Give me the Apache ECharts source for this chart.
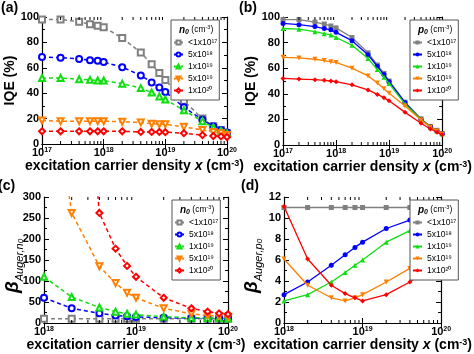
<!DOCTYPE html>
<html>
<head>
<meta charset="utf-8">
<script src="https://cdn.jsdelivr.net/npm/echarts@6/dist/echarts.min.js"></script>
<style>
  body { margin: 0; background: #fff; }
  #chart { width: 474px; height: 354px; }
</style>
</head>
<body>
<div id="chart"></div>
<script>
// excitation carrier density x (cm^-3)
const xTop = [1e17, 2e17, 4e17, 6e17, 8e17, 1e18, 2e18, 4e18, 6e18, 8e18, 1e19, 2e19, 4e19, 6e19, 8e19, 1e20];
const xBottom = [1e18, 2e18, 4e18, 6e18, 8e18, 1e19, 2e19, 4e19, 6e19, 8e19, 1e20];

const dopings = ['<1x10¹⁷', '5x10¹⁸', '1x10¹⁹', '5x10¹⁹', '1x10²⁰'];
const colors = ['#808080', '#0000ff', '#11dd11', '#ff8000', '#ff0000'];
const symbols = ['rect', 'circle', 'triangle', 'triangle', 'diamond'];
const rotations = [0, 0, 0, 180, 0];
const minorSteps = [2, 3, 4, 5, 6, 7, 8, 9];

// (a) IQE (%) for n-type doping n0
const iqeN_gray   = [98, 98, 96.3, 94.2, 93.2, 92, 83.5, 72, 62.8, 56, 50.3, 34, 20, 14, 11, 8.4];
const iqeN_blue   = [68.5, 68, 67, 66, 65.5, 64.5, 60.5, 54, 48.5, 44.5, 41, 29, 19, 14, 11, 9];
const iqeN_green  = [52, 52, 51, 50.5, 50, 50, 47.5, 44, 40.5, 37.5, 35, 26.5, 18, 13, 10.5, 8.5];
const iqeN_orange = [18.5, 18, 18, 18, 18, 18, 17.5, 17, 16, 15.5, 15.5, 13.5, 11, 9.5, 8.5, 7];
const iqeN_red    = [10, 10, 10, 10, 10, 10, 10, 9.5, 9.5, 9.5, 9.3, 8.5, 7, 6.3, 6, 5.5];

// (b) IQE (%) for p-type doping p0
const iqeP_gray   = [98, 98, 96, 94.5, 93, 91.5, 84, 72, 62.5, 56, 50, 33.5, 20.5, 14.5, 11.5, 9];
const iqeP_blue   = [95, 94, 92.5, 91, 90, 88, 81.5, 70.5, 61.5, 55, 49.5, 33, 20, 14.5, 11, 9];
const iqeP_green  = [91, 90.5, 88.5, 87, 86, 84, 78, 67.5, 59, 53, 48, 32, 20, 14, 11, 8.5];
const iqeP_orange = [68.5, 68, 67, 66, 65, 64.5, 60, 54, 48.5, 44, 40.5, 30.5, 19.5, 14, 11, 8.5];
const iqeP_red    = [52, 51.5, 51, 50.5, 50, 49.5, 47, 43, 39.5, 37, 34.5, 25.5, 17, 12.5, 10, 8];

// (c) beta Auger, n0
const betaN_gray   = [10, 10, 10, 10, 10, 10, 10, 10, 10, 10, 10];
const betaN_blue   = [60, 35, 23, 18, 16, 14.5, 12.5, 11.5, 11, 11, 11];
const betaN_green  = [110, 62, 37, 27, 22, 20, 15, 12.5, 12, 11.5, 11];
const betaN_orange = [700, 262, 135, 95, 72, 60, 35, 22, 18, 16, 15];
const betaN_red    = [2000, 1000, 262, 177, 136, 110, 60, 35, 27, 23, 21];

// (d) beta Auger, p0
const betaP_gray   = [11, 11, 11, 11, 11, 11, 11, 11, 11, 11, 11];
const betaP_blue   = [2.7, 3.9, 5.5, 6.5, 7.2, 7.7, 9.0, 9.8, 10.2, 10.4, 10.6];
const betaP_green  = [2.1, 2.7, 3.9, 4.8, 5.5, 6.0, 7.7, 8.8, 9.4, 9.8, 10.1];
const betaP_orange = [6.1, 3.6, 2.4, 2.1, 2.4, 2.7, 3.9, 5.2, 6.2, 7.0, 7.7];
const betaP_red    = [11.1, 6.1, 3.6, 2.8, 2.4, 2.1, 2.7, 3.9, 4.8, 5.4, 6.0];

const FONT = '"Liberation Sans", Arial, sans-serif';

// legend: [left x, top y]
const panels = [
  { key: 'a', grid: { left: 42, top: 17, width: 185, height: 127 }, xs: xTop, xMin: 1e17, xMax: 1e20,
    yMax: 100, yInt: 20, dashed: true, ys: [iqeN_gray, iqeN_blue, iqeN_green, iqeN_orange, iqeN_red],
    yName: 'IQE (%)', carrier: 'n', legend: [171, 20], label: [1, 1], beta: null },
  { key: 'b', grid: { left: 283, top: 17, width: 182, height: 128 }, xs: xTop, xMin: 1e17, xMax: 1e20,
    yMax: 100, yInt: 20, dashed: false, ys: [iqeP_gray, iqeP_blue, iqeP_green, iqeP_orange, iqeP_red],
    yName: 'IQE (%)', carrier: 'p', legend: [410, 20], label: [239, 1], beta: null },
  { key: 'c', grid: { left: 44, top: 197, width: 184, height: 126 }, xs: xBottom, xMin: 1e18, xMax: 1e20,
    yMax: 300, yInt: 50, dashed: true, ys: [betaN_gray, betaN_blue, betaN_green, betaN_orange, betaN_red],
    yName: '', carrier: 'n', legend: [172, 200], label: [-2, 179], beta: [14, 266] },
  { key: 'd', grid: { left: 284, top: 197, width: 181, height: 126 }, xs: xBottom, xMin: 1e18, xMax: 1e20,
    yMax: 12, yInt: 2, dashed: false, ys: [betaP_gray, betaP_blue, betaP_green, betaP_orange, betaP_red],
    yName: '', carrier: 'p', legend: [410, 200], label: [241, 179], beta: [253, 266] }
];

const supRich = {
  sup: { fontSize: 7, fontWeight: 'bold', fontFamily: FONT, color: '#000', verticalAlign: 'top', lineHeight: 8 }
};

function logLabel(v) {
  return '10{sup|' + Math.round(Math.log(v) / Math.LN10) + '}';
}

const grids = [], xAxes = [], yAxes = [], series = [], legends = [], graphics = [];

panels.forEach((p, i) => {
  grids.push(p.grid);
  const tick = { inside: true, length: 5, lineStyle: { color: '#000', width: 1 } };
  const line = { show: true, lineStyle: { color: '#000', width: 1.2 } };
  const xName = 'excitation carrier density {i|x} (cm{sup|-3})';
  xAxes.push({
    gridIndex: i, type: 'log', logBase: 10, min: p.xMin, max: p.xMax, position: 'bottom',
    axisLine: line, axisTick: tick, splitLine: { show: false },
    axisLabel: { formatter: logLabel, color: '#000', fontSize: 11, fontWeight: 'bold', fontFamily: FONT, margin: 3,
      rich: supRich },
    name: xName, nameLocation: 'middle', nameGap: 14,
    nameTextStyle: { color: '#000', fontSize: 14, fontWeight: 'bold', fontFamily: FONT,
      rich: {
        i: { fontSize: 14, fontWeight: 'bold', fontStyle: 'italic', fontFamily: FONT, color: '#000' },
        sup: { fontSize: 9, fontWeight: 'bold', fontFamily: FONT, color: '#000', verticalAlign: 'top', lineHeight: 10 }
      } }
  });
  xAxes.push({
    gridIndex: i, type: 'log', logBase: 10, min: p.xMin, max: p.xMax, position: 'top',
    axisLine: line, axisTick: tick, axisLabel: { show: false }, splitLine: { show: false }
  });

  yAxes.push({
    gridIndex: i, type: 'value', min: 0, max: p.yMax, interval: p.yInt, position: 'left',
    axisLine: line, axisTick: tick, splitLine: { show: false },
    minorTick: { show: true, splitNumber: 2, length: 3, lineStyle: { color: '#000' } },
    axisLabel: { color: '#000', fontSize: 11, fontWeight: 'bold', fontFamily: FONT, margin: 3 },
    name: p.yName, nameLocation: 'middle', nameGap: 22,
    nameTextStyle: { color: '#000', fontSize: 14, fontWeight: 'bold', fontFamily: FONT }
  });
  yAxes.push({
    gridIndex: i, type: 'value', min: 0, max: p.yMax, interval: p.yInt, position: 'right',
    axisLine: line, axisTick: tick, splitLine: { show: false },
    minorTick: { show: true, splitNumber: 2, length: 3, lineStyle: { color: '#000' } },
    axisLabel: { show: false }
  });

  const names = [];
  p.ys.forEach((vals, k) => {
    const name = p.key + ':' + dopings[k];
    names.push(name);
    series.push({
      name: name, type: 'line', xAxisIndex: 2 * i, yAxisIndex: 2 * i,
      data: p.xs.map((x, j) => [x, vals[j]]),
      symbol: p.dashed ? 'empty' + symbols[k][0].toUpperCase() + symbols[k].slice(1) : symbols[k],
      symbolSize: p.dashed ? 6 : 5, symbolRotate: rotations[k],
      lineStyle: { color: colors[k], width: p.dashed ? 1.5 : 1.3, type: p.dashed ? [4, 3] : 'solid' },
      itemStyle: { color: colors[k], borderColor: colors[k], borderWidth: p.dashed ? 1.2 : 0 },
      clip: true, z: 3 + k
    });
  });

  // minor ticks for the log x axis (2..9 within each decade)
  const minor = [];
  for (let e = Math.round(Math.log10(p.xMin)); e < Math.round(Math.log10(p.xMax)); e++) {
    minorSteps.forEach(m => minor.push([m * Math.pow(10, e), 0]));
  }
  series.push({
    type: 'custom', xAxisIndex: 2 * i, yAxisIndex: 2 * i, silent: true, clip: false, z: 10,
    data: minor,
    renderItem: (params, api) => {
      const x = api.coord([api.value(0), 0])[0];
      const cs = params.coordSys;
      const s = { stroke: '#000', lineWidth: 1 };
      return { type: 'group', children: [
        { type: 'line', shape: { x1: x, y1: cs.y + cs.height, x2: x, y2: cs.y + cs.height - 3 }, style: s },
        { type: 'line', shape: { x1: x, y1: cs.y, x2: x, y2: cs.y + 3 }, style: s }
      ] };
    }
  });

  legends.push({
    data: names, orient: 'vertical', left: p.legend[0], top: p.legend[1], align: 'left',
    padding: [18, 2, 5, 2], itemGap: 3, itemWidth: 9, itemHeight: 5, itemTextGap: 2,
    borderColor: '#555', borderWidth: 1, backgroundColor: '#fff', symbolRotate: 'inherit',
    selectedMode: false, z: 20,
    textStyle: { fontSize: 8.5, fontFamily: FONT, color: '#000', lineHeight: 9 },
    formatter: n => n.split(':')[1]
  });

  graphics.push({
    type: 'text', left: p.legend[0] + 8, top: p.legend[1] + 4, z: 30,
    style: {
      text: '{c|' + p.carrier + '}{o|0}{t| (cm}{u|-3}{t|)}',
      rich: {
        c: { fontSize: 10, fontWeight: 'bold', fontStyle: 'italic', fontFamily: FONT, fill: '#000' },
        o: { fontSize: 7, fontWeight: 'bold', fontStyle: 'italic', fontFamily: FONT, fill: '#000', verticalAlign: 'bottom', padding: [5, 0, 0, 0] },
        t: { fontSize: 8.5, fontFamily: FONT, fill: '#000' },
        u: { fontSize: 5.5, fontFamily: FONT, fill: '#000', verticalAlign: 'top', lineHeight: 6 }
      }
    }
  });
  graphics.push({
    type: 'text', left: p.label[0], top: p.label[1], z: 30,
    style: { text: '(' + p.key + ')', font: 'bold 14px ' + FONT, fill: '#000' }
  });
  if (p.beta) {
    graphics.push({
      type: 'text', x: p.beta[0], y: p.beta[1], rotation: Math.PI / 2, z: 30,
      style: {
        text: '{b|β}{s|Auger,' + p.carrier + '}{z|0}',
        align: 'center', verticalAlign: 'middle',
        rich: {
          b: { fontSize: 19, fontWeight: 'bold', fontStyle: 'italic', fontFamily: FONT, fill: '#000', lineHeight: 22, verticalAlign: 'top' },
          s: { fontSize: 11, fontStyle: 'italic', fontFamily: FONT, fill: '#000', lineHeight: 12, verticalAlign: 'bottom' },
          z: { fontSize: 8, fontStyle: 'italic', fontFamily: FONT, fill: '#000', lineHeight: 8, verticalAlign: 'bottom' }
        }
      }
    });
  }
});

const chart = echarts.init(document.getElementById('chart'));
chart.setOption({
  animation: false,
  grid: grids,
  xAxis: xAxes,
  yAxis: yAxes,
  legend: legends,
  series: series,
  graphic: graphics
});
</script>
</body>
</html>
